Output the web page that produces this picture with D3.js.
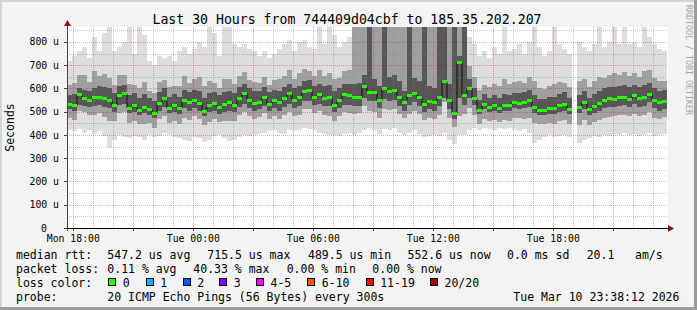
<!DOCTYPE html>
<html>
<head>
<meta charset="utf-8">
<script src="https://cdn.jsdelivr.net/npm/d3@7"></script>
<style>
  body { margin: 0; background: #f3f3f3; }
  svg { display: block; }
  text { font-family: "DejaVu Sans Mono", monospace; fill: #000; }
</style>
</head>
<body>
<svg id="chart" width="697" height="310"></svg>
<script>
// 30 hours of 15 minute columns, values in microseconds
var startTime = new Date(2026, 2, 9, 17, 41);
var stepMinutes = 15;

var median = [
  535,530,575,560,552,563,563,559,550,530,570,580,518,530,507,522,510,495,538,558,
  518,530,516,552,540,550,538,505,530,538,520,535,540,530,560,580,550,538,542,565,
  535,550,540,560,580,552,563,590,592,565,578,560,562,530,550,575,570,565,563,610,
  585,585,550,602,588,592,565,542,572,582,565,535,545,540,565,630,550,495,715,570,
  602,560,508,535,520,528,516,529,530,542,538,540,550,522,508,508,516,516,528,535,
  512,null,520,540,510,525,538,550,558,555,562,565,555,570,558,565,578,550,540,548
];
var pingMin = [
  420,415,425,410,420,405,415,395,350,380,400,390,385,395,390,380,400,390,395,410,
  400,390,385,380,375,390,385,370,380,395,400,385,375,380,390,400,395,400,405,410,
  415,420,410,405,420,415,420,430,425,420,410,405,400,400,395,405,410,400,410,420,
  430,420,405,425,420,430,410,400,410,420,405,390,395,400,395,410,380,360,400,400,
  420,430,420,430,425,420,430,425,430,420,415,425,410,365,380,390,400,390,395,400,
  390,null,365,380,385,395,390,400,395,405,400,410,400,405,395,400,410,395,400,405
];
var pingLow = [
  475,465,505,500,487,488,493,479,460,460,495,500,453,460,447,447,450,430,468,483,
  453,460,446,472,465,480,468,445,455,468,455,460,460,460,485,500,480,468,477,495,
  470,480,470,485,500,482,488,510,512,495,503,485,482,460,480,500,495,490,493,525,
  505,500,475,512,508,512,490,472,492,502,490,465,475,470,485,540,475,435,480,490,
  517,485,448,470,460,463,456,464,460,472,473,470,475,452,448,448,451,446,458,465,
  447,null,445,465,445,455,463,475,478,480,487,485,480,490,483,485,498,475,470,478
];
var pingQ1 = [
  510,505,530,525,520,525,530,520,515,500,530,535,495,500,485,495,485,475,505,520,
  495,500,490,515,505,515,505,480,500,505,490,500,505,500,520,535,515,505,510,525,
  505,515,505,520,535,515,525,545,545,530,535,525,525,500,515,530,530,525,525,560,
  545,545,515,555,545,550,525,505,530,540,525,500,510,505,525,560,510,470,560,530,
  560,530,490,510,500,505,495,505,505,515,510,515,520,495,485,485,490,490,500,505,
  490,null,495,510,485,495,505,515,520,520,525,530,520,535,520,525,540,515,505,510
];
var pingQ3 = [
  570,575,600,595,590,600,610,605,600,580,610,615,570,580,560,575,560,545,585,600,
  565,575,565,595,585,595,590,560,580,585,570,585,590,580,605,620,600,590,590,605,
  585,595,590,605,620,600,610,630,635,610,620,610,615,590,600,620,620,620,625,660,
  1200,640,610,1200,650,660,630,590,1200,645,630,1200,610,600,1200,1200,620,1200,740,1200,
  640,600,550,575,560,570,560,575,570,580,580,585,595,570,555,555,565,565,575,585,
  560,null,570,590,560,575,590,600,605,605,610,615,605,615,605,615,625,600,590,595
];
var pingHigh = [
  615,625,660,660,627,673,653,664,645,615,660,660,618,615,602,627,590,580,628,638,
  608,610,611,652,625,640,648,610,630,623,600,640,640,620,655,670,635,628,622,650,
  615,635,640,655,680,642,668,685,677,655,678,655,667,640,645,675,680,1200,1200,1200,
  1200,1200,1200,1200,1200,1200,1200,1200,1200,1200,1200,1200,1200,1200,1200,1200,1200,1200,1200,1200,
  697,650,593,615,605,618,611,639,620,627,633,625,650,632,603,598,611,621,628,625,
  607,null,630,640,605,630,648,645,658,665,657,670,655,665,648,675,678,645,630,633
];
var pingMax = [
  720,740,760,780,730,820,760,840,1200,760,780,800,1200,750,1200,830,720,700,740,730,
  740,720,760,780,750,770,800,780,1200,840,740,1200,1200,790,780,790,770,760,740,760,
  730,750,770,790,810,760,800,810,780,770,1200,790,1200,830,780,800,820,1200,1200,1200,
  1200,1200,1200,1200,1200,1200,1200,1200,1200,1200,1200,1200,1200,1200,1200,1200,1200,1200,1200,1200,
  820,790,740,760,730,780,750,1200,760,770,790,750,800,1200,780,740,760,1200,790,770,
  750,null,800,780,760,790,1200,780,800,1200,790,1200,790,800,780,1200,820,790,770,760
];

var yTicks = [0, 100, 200, 300, 400, 500, 600, 700, 800];
var lossLabels = ["0", "1", "2", "3", "4-5", "6-10", "11-19", "20/20"];
var lossColors = ["#26ff00", "#00b8ff", "#0059ff", "#7e00ff", "#ff00ff", "#ff5500", "#ff0000", "#a10000"];

var width = 697, height = 310;
var plot = { left: 67, right: 667, top: 28, bottom: 228 };

var svg = d3.select("#chart");

var x = d3.scaleTime()
    .domain([startTime, d3.timeMinute.offset(startTime, 30 * 60)])
    .range([plot.left, plot.right]);
var y = d3.scaleLinear()
    .domain([0, 860])
    .range([plot.bottom, plot.top]);

function colTime(i) { return d3.timeMinute.offset(startTime, i * stepMinutes); }

// frame
svg.append("rect").attr("width", width).attr("height", height).attr("fill", "#f3f3f3");
svg.append("rect").attr("x", 0).attr("y", 0).attr("width", width).attr("height", 2).attr("fill", "#d4d4d4");
svg.append("rect").attr("x", 0).attr("y", 0).attr("width", 2).attr("height", height).attr("fill", "#d4d4d4");
svg.append("rect").attr("x", width - 3).attr("y", 0).attr("width", 3).attr("height", height).attr("fill", "#9c9c9c");
svg.append("rect").attr("x", 0).attr("y", height - 3).attr("width", width).attr("height", 3).attr("fill", "#9c9c9c");

// canvas
svg.append("rect")
    .attr("x", plot.left).attr("y", plot.top - 1)
    .attr("width", plot.right - plot.left + 1).attr("height", plot.bottom - plot.top + 1)
    .attr("fill", "#fff");

svg.append("clipPath").attr("id", "clip")
    .append("rect")
    .attr("x", plot.left).attr("y", plot.top - 1)
    .attr("width", plot.right - plot.left).attr("height", plot.bottom - plot.top + 1);

var g = svg.append("g").attr("clip-path", "url(#clip)");

// smoke: outer, middle, core bands
var idx = d3.range(median.length).filter(function (i) { return median[i] != null; });
var bands = [
  { lo: pingMin, hi: pingMax, color: "#dddddd" },
  { lo: pingLow, hi: pingHigh, color: "#a0a0a0" },
  { lo: pingQ1, hi: pingQ3, color: "#575757" }
];
bands.forEach(function (b) {
  g.append("g").selectAll("rect")
    .data(idx)
    .enter().append("rect")
    .attr("x", function (i) { return x(colTime(i)); })
    .attr("width", function (i) { return x(colTime(i + 1)) - x(colTime(i)); })
    .attr("y", function (i) { return y(b.hi[i]); })
    .attr("height", function (i) { return y(b.lo[i]) - y(b.hi[i]); })
    .attr("fill", b.color)
    .attr("shape-rendering", "crispEdges");
});

// grid on top of smoke
var endTime = x.domain()[1];
var minorX = d3.timeHour.every(1).range(startTime, endTime).filter(function (d) { return d.getHours() % 3 !== 0; });
var majorX = d3.timeHour.every(3).range(startTime, endTime);
var minorY = d3.range(50, 860, 100);
var majorY = yTicks.filter(function (v) { return v > 0; });

var grid = svg.append("g");
function vLines(data, color) {
  grid.append("g").selectAll("line").data(data).enter().append("line")
    .attr("x1", function (d) { return Math.round(x(d)) + 0.5; })
    .attr("x2", function (d) { return Math.round(x(d)) + 0.5; })
    .attr("y1", plot.top - 1).attr("y2", plot.bottom)
    .attr("stroke", color).attr("stroke-dasharray", "1,1");
}
function hLines(data, color) {
  grid.append("g").selectAll("line").data(data).enter().append("line")
    .attr("y1", function (d) { return Math.round(y(d)) + 0.5; })
    .attr("y2", function (d) { return Math.round(y(d)) + 0.5; })
    .attr("x1", plot.left).attr("x2", plot.right)
    .attr("stroke", color).attr("stroke-dasharray", "1,1");
}
vLines(minorX, "rgba(128,128,128,0.45)");
hLines(minorY, "rgba(128,128,128,0.45)");
vLines(majorX, "rgba(220,0,0,0.35)");
hLines(majorY, "rgba(220,0,0,0.35)");

// median: dark step line plus green loss-colour blocks
var pts = median.map(function (m, i) { return { t: colTime(i), m: m }; });
pts.push({ t: colTime(median.length), m: median[median.length - 1] });
var medLine = d3.line()
    .defined(function (d) { return d.m != null; })
    .x(function (d) { return x(d.t); })
    .y(function (d) { return Math.round(y(d.m)) + 0.5; })
    .curve(d3.curveStepAfter);
g.append("path").datum(pts)
    .attr("d", medLine)
    .attr("fill", "none").attr("stroke", "#111").attr("stroke-width", 1);

g.append("g").selectAll("rect")
    .data(idx)
    .enter().append("rect")
    .attr("x", function (i) { return x(colTime(i)); })
    .attr("width", function (i) { return x(colTime(i + 1)) - x(colTime(i)); })
    .attr("y", function (i) { return Math.round(y(median[i])) - 1; })
    .attr("height", 3)
    .attr("fill", lossColors[0])
    .attr("shape-rendering", "crispEdges");

// axes
var axisColor = "#000";
var arrowColor = "#8e1010";
svg.append("line")
    .attr("x1", plot.left + 0.5).attr("x2", plot.left + 0.5)
    .attr("y1", plot.bottom + 3).attr("y2", 25)
    .attr("stroke", "#444");
svg.append("path")
    .attr("d", "M" + (plot.left - 3) + ",26 L" + (plot.left + 0.5) + ",20 L" + (plot.left + 4) + ",26 Z")
    .attr("fill", arrowColor);
svg.append("line")
    .attr("x1", plot.left - 3).attr("x2", plot.right + 2)
    .attr("y1", plot.bottom + 0.5).attr("y2", plot.bottom + 0.5)
    .attr("stroke", axisColor);
svg.append("path")
    .attr("d", "M" + (plot.right + 1) + "," + (plot.bottom - 3) + " L" + (plot.right + 7) + "," + (plot.bottom + 0.5) +
         " L" + (plot.right + 1) + "," + (plot.bottom + 4) + " Z")
    .attr("fill", arrowColor);

// tick marks
svg.append("g").selectAll("line").data(yTicks).enter().append("line")
    .attr("x1", plot.left - 3).attr("x2", plot.left)
    .attr("y1", function (d) { return Math.round(y(d)) + 0.5; })
    .attr("y2", function (d) { return Math.round(y(d)) + 0.5; })
    .attr("stroke", "#444");
svg.append("g").selectAll("line").data(majorX).enter().append("line")
    .attr("x1", function (d) { return Math.round(x(d)) + 0.5; })
    .attr("x2", function (d) { return Math.round(x(d)) + 0.5; })
    .attr("y1", plot.bottom).attr("y2", plot.bottom + 3)
    .attr("stroke", "#444");

// y labels
svg.append("g").selectAll("text").data(yTicks).enter().append("text")
    .attr("x", function (d) { return d === 0 ? 47 : 59; })
    .attr("y", function (d) { return y(d); })
    .attr("dy", "0.36em")
    .attr("text-anchor", "end")
    .style("font-size", "9.8px")
    .text(function (d) { return d === 0 ? "0" : d + " u"; });

// x labels
var xLabels = d3.timeHour.every(6).range(startTime, endTime);
var fmt = d3.timeFormat("%a %H:%M");
svg.append("g").selectAll("text").data(xLabels).enter().append("text")
    .attr("x", function (d) { return x(d); })
    .attr("y", 241.5)
    .attr("text-anchor", "middle")
    .style("font-size", "9.8px")
    .text(function (d) { return fmt(d); });

// axis title
svg.append("text")
    .attr("transform", "translate(14,127.5) rotate(-90)")
    .attr("text-anchor", "middle")
    .style("font-size", "11.5px")
    .text("Seconds");

// title
svg.append("text")
    .attr("x", 347).attr("y", 23.5)
    .attr("text-anchor", "middle")
    .style("font-size", "13.2px")
    .text("Last 30 Hours from 744409d04cbf to 185.35.202.207");

// watermark
svg.append("text")
    .attr("transform", "translate(685.5,5) rotate(90)")
    .style("font-size", "8.3px")
    .style("fill", "#a6a6a6")
    .text("RRDTOOL / TOBI OETIKER");

// legend
var legendRows = [
  { y: 258.5, items: [[16, "median rtt:"], [107.3, "547.2 us avg"], [207.3, "715.5 us max"], [308, "489.5 us min"],
                      [407.5, "552.6 us now"], [507, "0.0 ms sd"], [586.7, "20.1"], [635, "am/s"]] },
  { y: 272.5, items: [[16, "packet loss:"], [107.3, "0.11 % avg"], [193.3, "40.33 % max"], [286.7, "0.00 % min"],
                      [372.3, "0.00 % now"]] },
  { y: 286.5, items: [[16, "loss color:"]] },
  { y: 300.5, items: [[16, "probe:"], [107.3, "20 ICMP Echo Pings (56 Bytes) every 300s"], [513.3, "Tue Mar 10 23:38:12 2026"]] }
];
legendRows.forEach(function (row) {
  svg.append("g").selectAll("text").data(row.items).enter().append("text")
    .attr("x", function (d) { return d[0]; })
    .attr("y", row.y)
    .style("font-size", "11.5px")
    .text(function (d) { return d[1]; });
});

var boxX = [108.3, 145.7, 182.7, 219.3, 256, 307.3, 365.7, 430];
var lg = svg.append("g").selectAll("g").data(lossLabels).enter().append("g");
lg.append("rect")
    .attr("x", function (d, i) { return Math.round(boxX[i]) + 0.5; })
    .attr("y", 278.5)
    .attr("width", 7).attr("height", 7)
    .attr("fill", function (d, i) { return lossColors[i]; })
    .attr("stroke", "#000");
lg.append("text")
    .attr("x", function (d, i) { return boxX[i] + 14.5; })
    .attr("y", 286.5)
    .style("font-size", "11.5px")
    .text(function (d) { return d; });
</script>
</body>
</html>
